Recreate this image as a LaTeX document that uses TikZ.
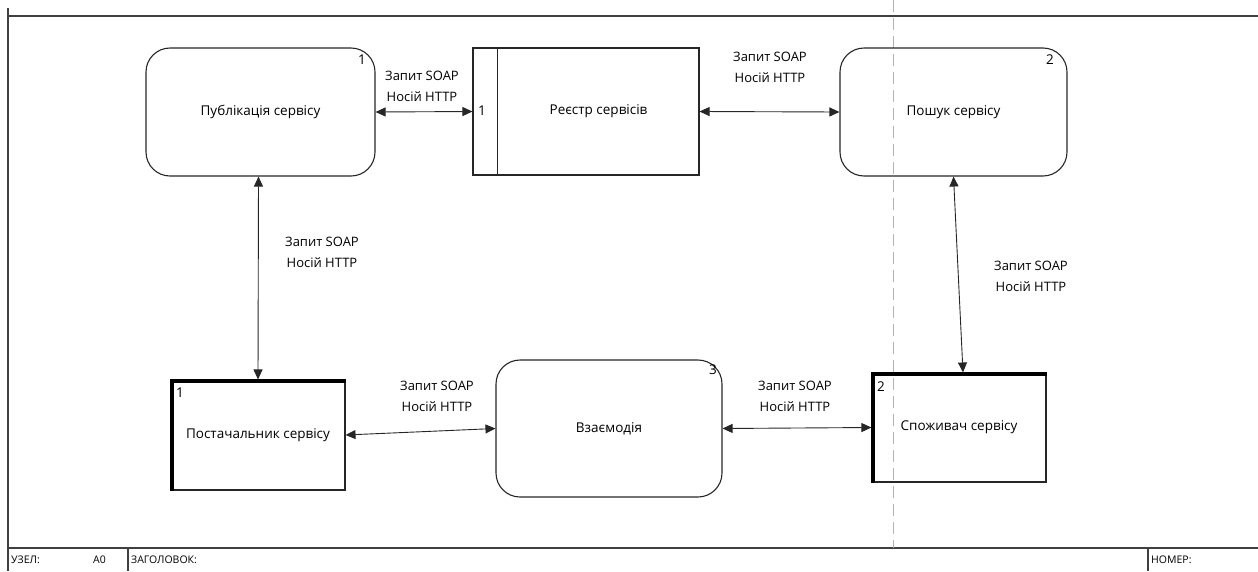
\documentclass[tikz,border=0pt]{standalone}
\usepackage{fontspec}
\setmainfont{Open Sans}
\usetikzlibrary{arrows.meta}
\begin{document}
\begin{tikzpicture}[x=1pt,y=-1pt,
  func/.style={draw=black!85, line width=1.1pt, rounded corners=24pt, font=\fontsize{13.5}{16}\selectfont, inner sep=0pt},
  plain/.style={draw=black!85, line width=1.1pt, font=\fontsize{13.5}{16}\selectfont, inner sep=0pt},
  num/.style={font=\fontsize{13.5}{16}\selectfont, inner sep=0pt},
  lbl/.style={font=\fontsize{13}{21}\selectfont, align=center, inner sep=0pt},
  foot/.style={font=\fontsize{10.5}{12}\selectfont, inner sep=0pt, anchor=west},
  conn/.style={draw=black!85, line width=0.9pt, {Triangle[length=10pt,width=9pt]}-{Triangle[length=10pt,width=9pt]}},
  frame/.style={draw=black!75, line width=1.3pt},
  thickedge/.style={draw=black, line width=3.5pt}
]
\useasboundingbox (0,0) rectangle (1258,571);

% sheet frame
\draw[frame] (8,16) -- (1258,16);
\draw[frame] (8,8) -- (8,571);
\draw[frame] (8,548) -- (1258,548);
\draw[frame] (128,548) -- (128,571);
\draw[frame] (1148,548) -- (1148,571);
\draw[draw=black!30, line width=1pt, dash pattern=on 12pt off 6pt] (893,0) -- (893,548);

\node[foot] (uzel) at (11,560) {УЗЕЛ:};
\node[foot] (a0) at (93,560) {A0};
\node[foot] (zag) at (131,560) {ЗАГОЛОВОК:};
\node[foot] (nom) at (1151,560) {НОМЕР:};

% activities
\node[func, minimum width=229pt, minimum height=128pt] (pub) at (260.5,112) {Публікація сервісу};
\node[num, anchor=north east] (pubn) at (366,55) {1};

\node[func, minimum width=227pt, minimum height=128pt] (posh) at (953.5,112) {Пошук сервісу};
\node[num, anchor=north east] (poshn) at (1054,55) {2};

\node[func, minimum width=226pt, minimum height=137pt] (vz) at (609,428.5) {Взаємодія};
\node[num, anchor=north east] (vzn) at (717,365) {3};

% registry store
\node[plain, minimum width=226pt, minimum height=127pt] (reg) at (586,111.5) {\hspace*{25pt}Реєстр сервісів};
\draw[draw=black!85, line width=1.1pt] ([xshift=25pt]reg.north west) -- ([xshift=25pt]reg.south west);
\node[num] (regn) at (482,111) {1};

% external entities
\node[plain, minimum width=174pt, minimum height=110pt] (post) at (258,435) {Постачальник сервісу};
\draw[thickedge] ([yshift=-1.5pt]post.north east) -- ([yshift=-1.5pt]post.north west) ++(1.5pt,0) -- ([xshift=1.5pt]post.south west);
\node[num, anchor=north west] (postn) at (176,388) {1};

\node[plain, minimum width=174pt, minimum height=109pt] (spo) at (959,427.5) {Споживач сервісу};
\draw[thickedge] ([yshift=-1.5pt]spo.north east) -- ([yshift=-1.5pt]spo.north west) ++(1.5pt,0) -- ([xshift=1.5pt]spo.south west);
\node[num, anchor=north west] (spon) at (877,382) {2};

% flows
\draw[conn] (pub.east) -- (reg.west);
\node[lbl] (l1) at (422,86) {Запит SOAP\\Носій HTTP};

\draw[conn] (reg.east) -- (posh.west);
\node[lbl] (l2) at (770,67) {Запит SOAP\\Носій HTTP};

\draw[conn] ([xshift=-2pt]pub.south) -- (post.north);
\node[lbl] (l3) at (322,252) {Запит SOAP\\Носій HTTP};

\draw[conn] (post.east) -- (vz.west);
\node[lbl] (l4) at (437,396) {Запит SOAP\\Носій HTTP};

\draw[conn] (vz.east) -- (spo.west);
\node[lbl] (l5) at (795,396) {Запит SOAP\\Носій HTTP};

\draw[conn] (posh.south) -- ([xshift=4pt]spo.north);
\node[lbl] (l6) at (1031,276) {Запит SOAP\\Носій HTTP};

\end{tikzpicture}
\end{document}
